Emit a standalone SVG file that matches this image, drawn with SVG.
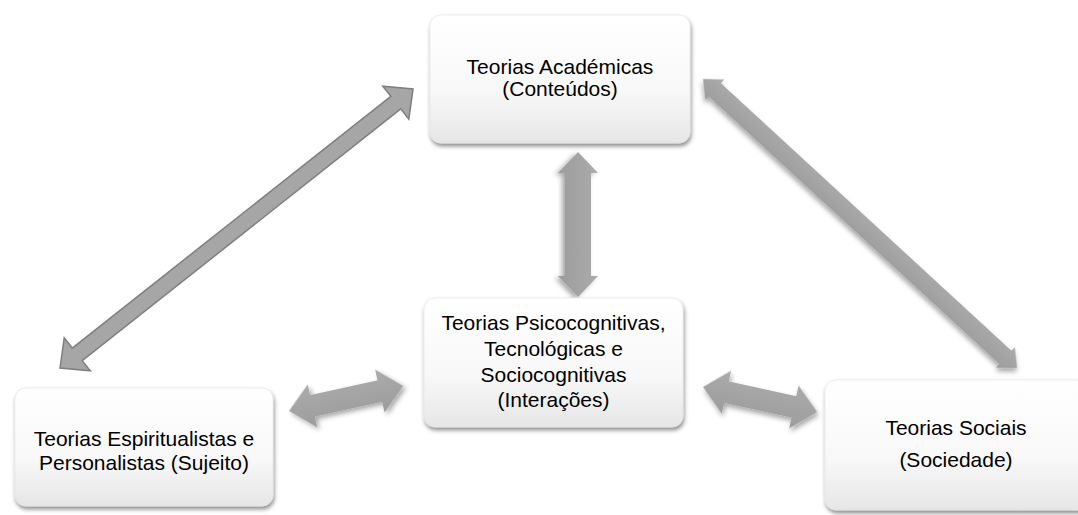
<svg xmlns="http://www.w3.org/2000/svg" width="1078" height="515" viewBox="0 0 1078 515">
  <style>
    .box { fill: url(#boxGrad); stroke: #e2e2e2; stroke-width: 0.6; filter: url(#boxShadow); }
    .lbl { font-family: "Liberation Sans", Arial, sans-serif; font-size: 21px; fill: #000; text-anchor: middle; }
    .arr { fill: url(#arrGrad); filter: url(#arrShadow); }
    .arrFlat { fill: #a6a6a6; stroke: #7f7f7f; stroke-width: 1.5; stroke-linejoin: miter; }
  </style>
  <defs>
    <linearGradient id="boxGrad" x1="0" y1="0" x2="0" y2="1">
      <stop offset="0" stop-color="#ffffff"/>
      <stop offset="0.6" stop-color="#f8f8f8"/>
      <stop offset="1" stop-color="#e6e6e6"/>
    </linearGradient>
    <linearGradient id="arrGrad" x1="0" y1="0" x2="0" y2="1">
      <stop offset="0" stop-color="#ababab"/>
      <stop offset="1" stop-color="#9c9c9c"/>
    </linearGradient>
    <filter id="boxShadow" x="-10%" y="-10%" width="120%" height="130%">
      <feDropShadow dx="1" dy="3" stdDeviation="2" flood-color="#000" flood-opacity="0.45"/>
    </filter>
    <filter id="arrShadow" x="-20%" y="-20%" width="140%" height="140%">
      <feDropShadow dx="2" dy="3" stdDeviation="2.5" flood-color="#000" flood-opacity="0.35"/>
    </filter>
  </defs>

  <rect width="1078" height="515" fill="#ffffff"/>

  <g id="connectors">
    <!-- Academicas <-> Espiritualistas (outlined) -->
    <polygon class="arrFlat" transform="translate(60,368) rotate(-38.32)"
      points="0,0 22,-21 22,-8 428,-8 428,-21 450,0 428,21 428,8 22,8 22,21"/>
    <!-- Academicas <-> Sociais -->
    <polygon class="arr" transform="translate(703,79) rotate(42.63)"
      points="0,0 16,-14 16,-9 411,-9 411,-14 427,0 411,14 411,9 16,9 16,14"/>
    <!-- Academicas <-> Psicocognitivas -->
    <polygon class="arr" transform="translate(578,152) rotate(90)"
      points="0,0 21,-20 21,-13 124,-13 124,-20 145,0 124,20 124,13 21,13 21,20"/>
    <!-- Espiritualistas <-> Psicocognitivas -->
    <polygon class="arr" transform="translate(289,411) rotate(-12.37)"
      points="0,0 24,-22 24,-11 93,-11 93,-22 117,0 93,22 93,11 24,11 24,22"/>
    <!-- Psicocognitivas <-> Sociais -->
    <polygon class="arr" transform="translate(703,387) rotate(12.37)"
      points="0,0 24,-22 24,-11 93,-11 93,-22 117,0 93,22 93,11 24,11 24,22"/>
  </g>

  <g id="node-academicas">
    <rect class="box" x="430" y="15" width="260" height="128" rx="11" ry="11"/>
    <text class="lbl" x="560" y="74">Teorias Académicas</text>
    <text class="lbl" x="560" y="96">(Conteúdos)</text>
  </g>

  <g id="node-psicocognitivas">
    <rect class="box" x="424" y="298" width="259" height="129" rx="11" ry="11"/>
    <text class="lbl" x="553.5" y="330">Teorias Psicocognitivas,</text>
    <text class="lbl" x="553.5" y="356">Tecnológicas e</text>
    <text class="lbl" x="553.5" y="382">Sociocognitivas</text>
    <text class="lbl" x="553.5" y="407">(Interações)</text>
  </g>

  <g id="node-espiritualistas">
    <rect class="box" x="15" y="388" width="258" height="118" rx="11" ry="11"/>
    <text class="lbl" x="144" y="446">Teorias Espiritualistas e</text>
    <text class="lbl" x="144" y="470">Personalistas (Sujeito)</text>
  </g>

  <g id="node-sociais">
    <rect class="box" x="825" y="380" width="265" height="130" rx="11" ry="11"/>
    <text class="lbl" x="956" y="435">Teorias Sociais</text>
    <text class="lbl" x="956" y="467">(Sociedade)</text>
  </g>
</svg>
